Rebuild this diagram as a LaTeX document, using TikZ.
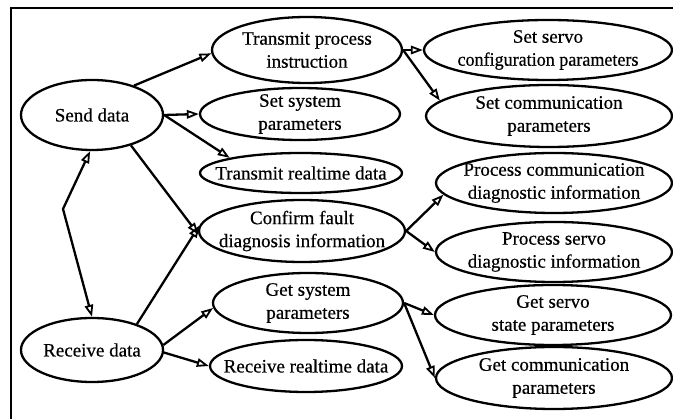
\documentclass[tikz,border=0pt]{standalone}
\usepackage{fontspec}
\setmainfont{Liberation Serif}[FakeBold=0.5]
\usetikzlibrary{shapes.geometric,arrows.meta}
\begin{document}
\begin{tikzpicture}[x=1pt,y=-1pt,
  task/.style={ellipse,draw,line width=2.3pt,inner xsep=-60pt,inner ysep=-25pt,
    align=center,font=\fontsize{19}{23}\selectfont},
  tip/.style={Triangle[open,length=12pt,width=8.5pt,line width=1.8pt]},
  link/.style={line width=2.3pt,-{Triangle[open,length=12pt,width=8.5pt,line width=1.8pt]}},
  both/.style={line width=2.3pt,{Triangle[open,length=12pt,width=8.5pt,line width=1.8pt]}-{Triangle[open,length=12pt,width=8.5pt,line width=1.8pt]}}]
\useasboundingbox (0,0) rectangle (673,419);
\fill[white] (0,0) rectangle (673,419);
% frame
\draw[line width=2.3pt] (11,430) -- (11,8) -- (690,8);
% nodes
\node[task,minimum width=142pt,minimum height=70pt] (send) at (92,115) {Send data};
\node[task,minimum width=142pt,minimum height=64pt] (recv) at (92,350) {Receive data};
\node[task,minimum width=190pt,minimum height=66pt] (tpi) at (307,50) {Transmit process\\instruction};
\node[task,minimum width=200pt,minimum height=52pt] (ssp) at (300,114) {Set system\\parameters};
\node[task,minimum width=202pt,minimum height=40pt] (trd) at (301,173) {Transmit realtime data};
\node[task,minimum width=206pt,minimum height=62pt] (cfd) at (302,231) {Confirm fault\\diagnosis information};
\node[task,minimum width=190pt,minimum height=60pt] (gsp) at (308,303) {Get system\\parameters};
\node[task,minimum width=192pt,minimum height=52pt] (rrd) at (306,366) {Receive realtime data};
\node[task,minimum width=248pt,minimum height=60pt] (ssc) at (548,50) {Set servo\\\scalebox{0.95}[1]{configuration parameters}};
\node[task,minimum width=246pt,minimum height=62pt] (scp) at (549,116) {Set communication\\parameters};
\node[task,minimum width=236pt,minimum height=60pt] (pcd) at (554,183) {Process communication\\diagnostic information};
\node[task,minimum width=236pt,minimum height=60pt] (psd) at (554,252) {Process servo\\diagnostic information};
\node[task,minimum width=236pt,minimum height=60pt] (gss) at (553,315) {Get servo\\state parameters};
\node[task,minimum width=236pt,minimum height=62pt] (gcp) at (554,378) {Get communication\\parameters};
\coordinate (bend) at (63,209);
% connectors
\draw[link] (send.35) -- (tpi.182);
\draw[link] (send.east) -- (ssp.west);
\draw[link] (send.east) -- (trd.168);
\draw[link] (send.-38) -- (cfd.182);
\draw[both] (send.-93) -- (bend) -- (recv.north);
\draw[link] (recv.30) -- (cfd.177);
\draw[link] (recv.4) -- (gsp.183);
\draw[link] (recv.-2) -- (rrd.west);
\draw[link] (tpi.east) -- (ssc.west);
\draw[link] (tpi.east) -- (scp.172);
\draw[link] (cfd.east) -- (pcd.186);
\draw[link] (cfd.east) -- (psd.west);
\draw[link] (gsp.east) -- (gss.west);
\draw[link] (gsp.east) -- (gcp.west);
\end{tikzpicture}
\end{document}
